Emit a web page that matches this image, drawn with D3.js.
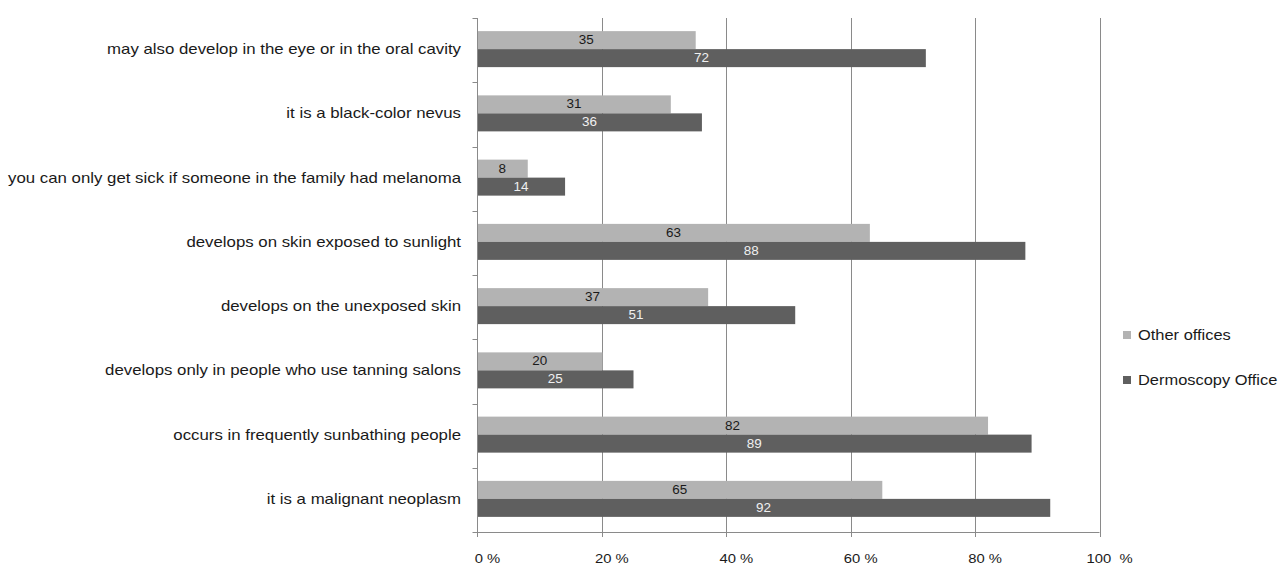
<!DOCTYPE html>
<html><head><meta charset="utf-8">
<script src="https://cdn.jsdelivr.net/npm/d3@7"></script>
<style>
html,body{margin:0;padding:0;background:#fff;}
text{font-family:"Liberation Sans",Arial,sans-serif;}
</style></head>
<body><svg id="chart" width="1280" height="565"></svg>
<script>
const categories = [
  "may also develop in the eye or in the oral cavity",
  "it is a black-color nevus",
  "you can only get sick if someone in the family had melanoma",
  "develops on skin exposed to sunlight",
  "develops on the unexposed skin",
  "develops only in people who use tanning salons",
  "occurs in frequently sunbathing people",
  "it is a malignant neoplasm"
];
const otherOffices = [35, 31, 8, 63, 37, 20, 82, 65];
const dermoscopyOffice = [72, 36, 14, 88, 51, 25, 89, 92];
const seriesNames = ["Other offices", "Dermoscopy Office"];
const xTicks = [0, 20, 40, 60, 80, 100];
const xTickLabels = ["0 %", "20 %", "40 %", "60 %", "80 %", "100  %"];

(function () {
const colors = ["#b3b3b3", "#5f5f5f"];
const labelColors = ["#1a1a1a", "#f0f0f0"];

const svg = d3.select("#chart");
const pLeft = 477.5, pRight = 1099.5, pTop = 18, pBottom = 532;

const x = d3.scaleLinear().domain([0, 100]).range([pLeft, pRight]);
const y = d3.scaleBand().domain(categories).range([pTop, pBottom]).padding(0);
const sub = d3.scaleBand().domain(seriesNames).range([0, 36]);
const barOffset = (y.bandwidth() - 36) / 2 - 1;

function stretch(sel, k) {
  sel.each(function () {
    const len = this.getComputedTextLength();
    d3.select(this).attr("textLength", len * k).attr("lengthAdjust", "spacingAndGlyphs");
  });
}

// gridlines
svg.append("g").selectAll("line").data(xTicks.slice(1)).join("line")
  .attr("x1", d => Math.round(x(d)) + 0.5).attr("x2", d => Math.round(x(d)) + 0.5)
  .attr("y1", pTop).attr("y2", pBottom + 5)
  .attr("stroke", "#8a8a8a").attr("stroke-width", 1);

// axes lines
svg.append("line").attr("x1", pLeft).attr("x2", pLeft).attr("y1", pTop).attr("y2", pBottom + 5)
  .attr("stroke", "#8a8a8a");
svg.append("line").attr("x1", pLeft).attr("x2", pRight).attr("y1", pBottom + 0.5).attr("y2", pBottom + 0.5)
  .attr("stroke", "#8a8a8a");
const bounds = categories.map(c => y(c)).concat([pBottom]);
svg.append("g").selectAll("line").data(bounds).join("line")
  .attr("x1", pLeft - 5).attr("x2", pLeft)
  .attr("y1", d => Math.round(d) + 0.5).attr("y2", d => Math.round(d) + 0.5)
  .attr("stroke", "#8a8a8a");

// bars
const seriesData = [otherOffices, dermoscopyOffice];
seriesData.forEach((vals, si) => {
  const g = svg.append("g");
  g.selectAll("rect").data(vals).join("rect")
    .attr("x", x(0) + 0.5)
    .attr("y", (d, i) => y(categories[i]) + barOffset + sub(seriesNames[si]))
    .attr("width", d => x(d) - x(0))
    .attr("height", sub.bandwidth())
    .attr("fill", colors[si]);
  g.selectAll("text").data(vals).join("text")
    .attr("x", d => (x(0) + x(d)) / 2)
    .attr("y", (d, i) => y(categories[i]) + barOffset + sub(seriesNames[si]) + sub.bandwidth() / 2 + 4)
    .attr("text-anchor", "middle")
    .attr("font-size", 12)
    .attr("fill", labelColors[si])
    .text(d => d)
    .call(stretch, 1.12);
});

// category labels
svg.append("g").selectAll("text").data(categories).join("text")
  .attr("x", 461)
  .attr("y", d => y(d) + y.bandwidth() / 2 + 4)
  .attr("text-anchor", "end")
  .attr("font-size", 15)
  .attr("fill", "#1a1a1a")
  .text(d => d)
  .call(stretch, 1.12);

// x tick labels
svg.append("g").selectAll("text").data(xTicks).join("text")
  .attr("x", d => x(d) + 10)
  .attr("y", 563)
  .attr("text-anchor", "middle")
  .attr("font-size", 13)
  .attr("fill", "#1a1a1a")
  .style("white-space", "pre")
  .text((d, i) => xTickLabels[i])
  .call(stretch, 1.14);

// legend
const legY = [335, 380];
const lg = svg.append("g");
seriesNames.forEach((n, i) => {
  lg.append("rect").attr("x", 1123).attr("y", legY[i] - 4).attr("width", 8).attr("height", 8).attr("fill", colors[i]);
  lg.append("text").attr("x", 1138).attr("y", legY[i] + 5).attr("font-size", 15).attr("fill", "#1a1a1a")
    .text(n).call(stretch, 1.095);
});
})();
</script></body></html>
